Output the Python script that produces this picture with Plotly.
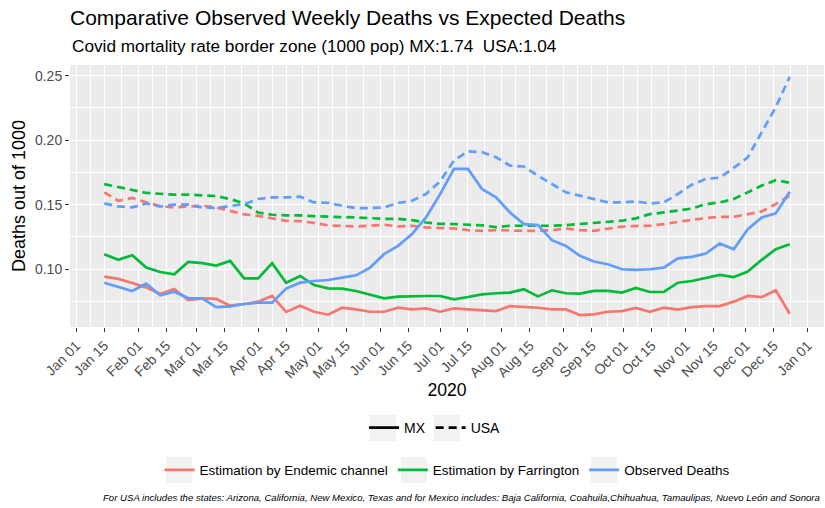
import pandas as pd
import plotly.graph_objects as go

# Weekly observation dates (2020)
weeks = pd.date_range("2020-01-15", periods=50, freq="7D")

# Deaths out of 1000 - Mexico border states
endemic_mx = [0.0943, 0.0925, 0.0894, 0.0860, 0.0808, 0.0847, 0.0762, 0.0775, 0.0770, 0.0718,
              0.0731, 0.0749, 0.0793, 0.0670, 0.0718, 0.0671, 0.0648, 0.0702, 0.0689, 0.0671,
              0.0671, 0.0702, 0.0689, 0.0697, 0.0671, 0.0697, 0.0689, 0.0681, 0.0676, 0.0715,
              0.0710, 0.0702, 0.0689, 0.0689, 0.0645, 0.0650, 0.0671, 0.0676, 0.0700, 0.0671,
              0.0702, 0.0687, 0.0707, 0.0715, 0.0715, 0.0749, 0.0793, 0.0785, 0.0837, 0.0655]
farrington_mx = [0.1117, 0.1073, 0.1109, 0.1013, 0.0979, 0.0961, 0.1057, 0.1047, 0.1028, 0.1065,
                 0.0930, 0.0930, 0.1047, 0.0896, 0.0948, 0.0878, 0.0852, 0.0850, 0.0832, 0.0806,
                 0.0775, 0.0788, 0.0793, 0.0793, 0.0793, 0.0767, 0.0785, 0.0806, 0.0814, 0.0819,
                 0.0845, 0.0790, 0.0837, 0.0814, 0.0811, 0.0832, 0.0832, 0.0819, 0.0855, 0.0824,
                 0.0824, 0.0896, 0.0909, 0.0935, 0.0956, 0.0940, 0.0982, 0.1073, 0.1155, 0.1194]
observed_mx = [0.0896, 0.0865, 0.0832, 0.0889, 0.0798, 0.0826, 0.0777, 0.0775, 0.0707, 0.0712,
               0.0731, 0.0741, 0.0741, 0.0850, 0.0896, 0.0909, 0.0917, 0.0935, 0.0953, 0.1013,
               0.1117, 0.1181, 0.1272, 0.1402, 0.1580, 0.1777, 0.1777, 0.1622, 0.1557, 0.1440,
               0.1350, 0.1342, 0.1225, 0.1181, 0.1104, 0.1060, 0.1039, 0.1000, 0.0995, 0.1000,
               0.1013, 0.1085, 0.1096, 0.1122, 0.1200, 0.1155, 0.1311, 0.1401, 0.1433, 0.1600]

# Deaths out of 1000 - USA border states
endemic_usa = [0.1596, 0.1531, 0.1552, 0.1518, 0.1487, 0.1479, 0.1487, 0.1492, 0.1479, 0.1450,
               0.1425, 0.1414, 0.1393, 0.1375, 0.1372, 0.1360, 0.1340, 0.1337, 0.1332, 0.1337,
               0.1345, 0.1332, 0.1337, 0.1324, 0.1319, 0.1316, 0.1303, 0.1298, 0.1303, 0.1298,
               0.1298, 0.1298, 0.1303, 0.1316, 0.1303, 0.1298, 0.1316, 0.1330, 0.1335, 0.1337,
               0.1350, 0.1368, 0.1383, 0.1396, 0.1406, 0.1406, 0.1427, 0.1448, 0.1505, 0.1570]
farrington_usa = [0.1660, 0.1635, 0.1614, 0.1591, 0.1583, 0.1578, 0.1578, 0.1575, 0.1567, 0.1544,
                  0.1510, 0.1440, 0.1422, 0.1417, 0.1417, 0.1411, 0.1409, 0.1406, 0.1401, 0.1396,
                  0.1390, 0.1390, 0.1380, 0.1362, 0.1352, 0.1350, 0.1345, 0.1340, 0.1326, 0.1337,
                  0.1337, 0.1335, 0.1337, 0.1342, 0.1350, 0.1355, 0.1363, 0.1376, 0.1394, 0.1427,
                  0.1440, 0.1453, 0.1470, 0.1505, 0.1518, 0.1544, 0.1596, 0.1648, 0.1690, 0.1670]
observed_usa = [0.1510, 0.1487, 0.1479, 0.1510, 0.1487, 0.1500, 0.1500, 0.1479, 0.1474, 0.1492,
                0.1505, 0.1544, 0.1557, 0.1557, 0.1562, 0.1518, 0.1515, 0.1492, 0.1474, 0.1474,
                0.1479, 0.1513, 0.1531, 0.1583, 0.1680, 0.1842, 0.1914, 0.1907, 0.1868, 0.1803,
                0.1796, 0.1725, 0.1660, 0.1596, 0.1570, 0.1544, 0.1518, 0.1518, 0.1525, 0.1510,
                0.1518, 0.1583, 0.1655, 0.1700, 0.1710, 0.1785, 0.1868, 0.2062, 0.2256, 0.2490]

series_names = ["Estimation by Endemic channel", "Estimation by Farrington", "Observed Deaths"]
series_colors = ["#F8766D", "#00BA38", "#619CFF"]
series_mx = [endemic_mx, farrington_mx, observed_mx]
series_usa = [endemic_usa, farrington_usa, observed_usa]
countries = ["MX", "USA"]

y_ticks = [0.10, 0.15, 0.20, 0.25]
y_minor = [0.075, 0.125, 0.175, 0.225]

FONT = "Liberation Sans, Arial, Helvetica, sans-serif"
DASH = "8px,5px"
LW = 2.7

# Plot-area geometry in pixels (used to place legend key boxes and notes)
W, H = 825, 508
ML, MR, MT, MB = 70, 1, 65, 181
PW, PH = W - ML - MR, H - MT - MB


def px_x(x):
    return (x - ML) / PW


def px_y(y):
    return (H - MB - y) / PH


# Semi-monthly date breaks (1st and 15th) and midpoints for the minor grid
x_ticks = pd.date_range("2020-01-01", "2021-01-01", freq="SMS")
x_minor = [a + (b - a) / 2 for a, b in zip(x_ticks[:-1], x_ticks[1:])]

# Axis ranges padded by 5% of the data span on each side
span_x = weeks[-1] - weeks[0]
x_range = [weeks[0] - 0.05 * span_x, weeks[-1] + 0.05 * span_x]
all_vals = [v for s in series_mx + series_usa for v in s]
lo, hi = min(all_vals), max(all_vals)
y_range = [lo - 0.05 * (hi - lo), hi + 0.05 * (hi - lo)]

fig = go.Figure()

for name, color, mx_vals, usa_vals in zip(series_names, series_colors, series_mx, series_usa):
    fig.add_trace(go.Scatter(
        x=weeks, y=mx_vals, mode="lines", name=name,
        line=dict(color=color, width=LW, dash="solid"),
        legend="legend2", showlegend=True, hoverinfo="skip",
    ))
    fig.add_trace(go.Scatter(
        x=weeks, y=usa_vals, mode="lines", name=name + " (USA)",
        line=dict(color=color, width=LW, dash=DASH),
        showlegend=False, hoverinfo="skip",
    ))

# Line-type key (country)
for country, dash in zip(countries, ["solid", DASH]):
    fig.add_trace(go.Scatter(
        x=[None], y=[None], mode="lines", name=country,
        line=dict(color="black", width=LW, dash=dash),
        legend="legend", showlegend=True,
    ))

# Light grey backgrounds behind the legend keys
key_boxes = [(383, 428), (447, 428), (179, 470), (414, 470), (604, 470)]
for cx, cy in key_boxes:
    fig.add_shape(
        type="rect", xref="paper", yref="paper", layer="below",
        x0=px_x(cx - 13), x1=px_x(cx + 13), y0=px_y(cy + 13), y1=px_y(cy - 13),
        fillcolor="#F2F2F2", line=dict(width=0),
    )

fig.update_layout(
    width=W, height=H,
    margin=dict(l=ML, r=MR, t=MT, b=MB),
    paper_bgcolor="white",
    plot_bgcolor="#EBEBEB",
    font=dict(family=FONT, color="black"),
    title=dict(
        text="Comparative Observed Weekly Deaths vs Expected Deaths",
        xref="paper", x=0, xanchor="left",
        yref="container", y=1 - 18 / H, yanchor="middle",
        font=dict(size=21, color="black", family=FONT),
    ),
    legend=dict(
        orientation="h", x=px_x(435), xanchor="center", y=px_y(428), yanchor="middle",
        font=dict(size=14, color="black", family=FONT),
        bgcolor="rgba(0,0,0,0)", itemwidth=30,
    ),
    legend2=dict(
        orientation="h", x=0.5, xanchor="center", y=px_y(470), yanchor="middle",
        font=dict(size=13.5, color="black", family=FONT),
        bgcolor="rgba(0,0,0,0)", itemwidth=30,
    ),
    showlegend=True,
)

fig.update_xaxes(
    type="date", range=x_range,
    tickmode="array", tickvals=x_ticks, tickformat="%b %d", tickangle=-45,
    tickfont=dict(size=14, color="#4D4D4D", family=FONT),
    ticks="outside", ticklen=4, tickwidth=1, tickcolor="#333333",
    showgrid=True, gridcolor="white", gridwidth=1.3,
    minor=dict(tickmode="array", tickvals=x_minor, showgrid=True,
               gridcolor="white", gridwidth=0.6, ticks=""),
    zeroline=False, showline=False,
    title=dict(text="2020", font=dict(size=17.6, color="black", family=FONT), standoff=0),
)

fig.update_yaxes(
    range=y_range,
    tickmode="array", tickvals=y_ticks, ticktext=[f"{v:.2f}" for v in y_ticks],
    tickfont=dict(size=14, color="#4D4D4D", family=FONT),
    ticks="outside", ticklen=4, tickwidth=1, tickcolor="#333333",
    showgrid=True, gridcolor="white", gridwidth=1.3,
    minor=dict(tickmode="array", tickvals=y_minor, showgrid=True,
               gridcolor="white", gridwidth=0.6, ticks=""),
    zeroline=False, showline=False,
    title=dict(text="Deaths out of 1000", font=dict(size=18, color="black", family=FONT), standoff=4),
)

fig.add_annotation(
    text="Covid mortality rate border zone (1000 pop) MX:1.74  USA:1.04",
    xref="paper", x=0, xanchor="left",
    yref="paper", y=px_y(46), yanchor="middle",
    showarrow=False, font=dict(size=17.2, color="black", family=FONT),
)

fig.add_annotation(
    text="<i>For USA includes the states: Arizona, California, New Mexico, Texas and for Mexico "
         "includes: Baja California, Coahuila,Chihuahua, Tamaulipas, Nuevo León and Sonora</i>",
    xref="paper", x=px_x(822), xanchor="right",
    yref="paper", y=px_y(497), yanchor="middle",
    showarrow=False, font=dict(size=9.6, color="black", family=FONT),
)

fig.write_html("out.html")
